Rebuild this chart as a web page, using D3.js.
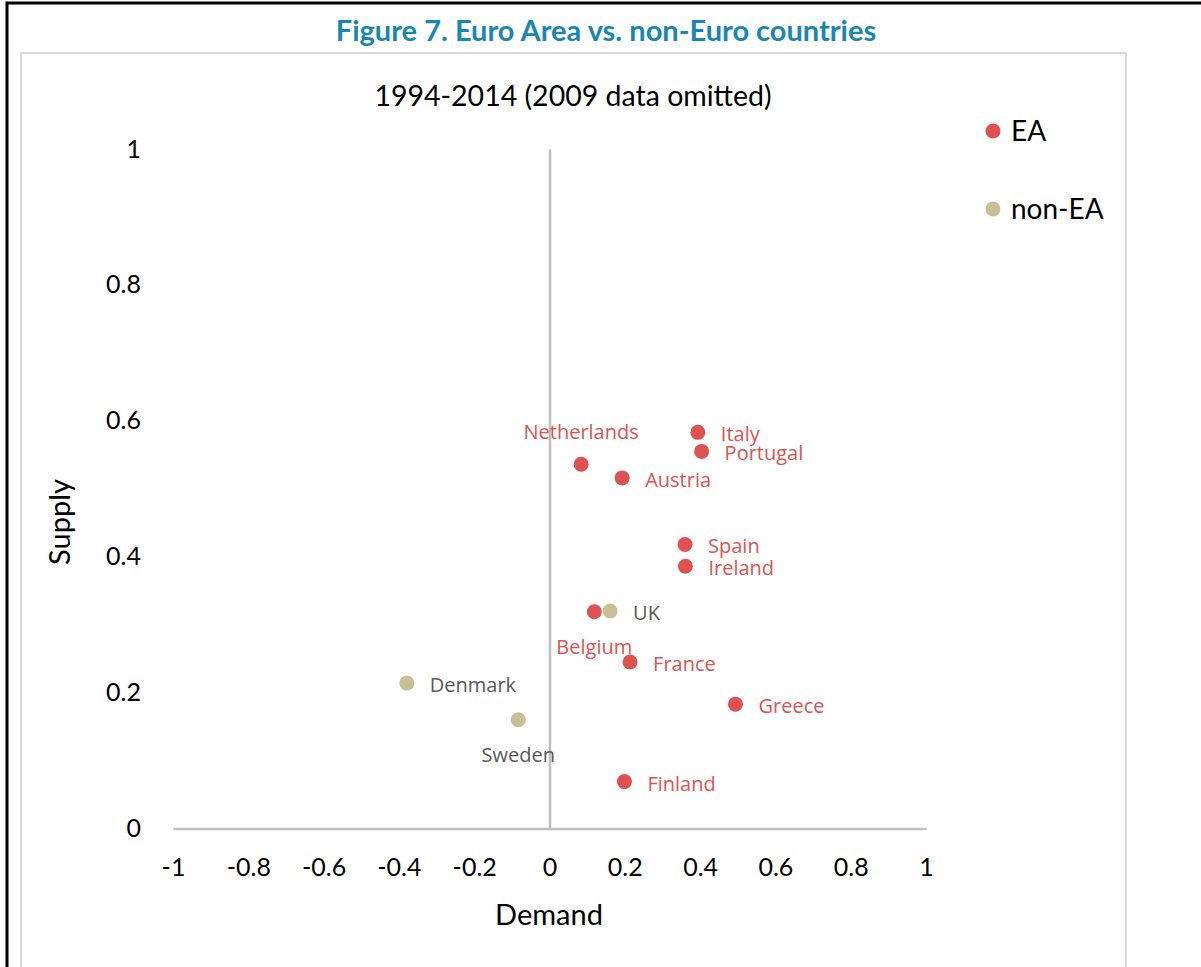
<!doctype html>
<html>
  <head>
    <meta charset="utf-8">
    <title>Euro Area vs. non-Euro countries</title>
    <style>
      body { margin: 0; background: #fff; }
      svg text { font-family: Lato, "Open Sans", sans-serif; }
      .lbl { font-family: "Open Sans", "Noto Sans", sans-serif; }
    </style>
  </head>
  <body>
    <div id="chart"></div>

    <script src="https://d3js.org/d3.v7.min.js"></script>
    <script>
      // data
      var eaNames   = ['Italy', 'Portugal', 'Netherlands', 'Austria', 'Spain', 'Ireland', 'Belgium', 'France', 'Greece', 'Finland'];
      var eaDemand  = [0.394, 0.404, 0.084, 0.193, 0.360, 0.361, 0.119, 0.214, 0.494, 0.199];
      var eaSupply  = [0.583, 0.555, 0.536, 0.516, 0.418, 0.386, 0.319, 0.245, 0.183, 0.069];

      var nonNames  = ['UK', 'Denmark', 'Sweden'];
      var nonDemand = [0.161, -0.379, -0.083];
      var nonSupply = [0.320, 0.214, 0.160];

      var xTicks = [-1, -0.8, -0.6, -0.4, -0.2, 0, 0.2, 0.4, 0.6, 0.8, 1];
      var yTicks = [0, 0.2, 0.4, 0.6, 0.8, 1];

      var seriesNames = ['EA', 'non-EA'];

      var width = 1201;
      var height = 967;

      var color = d3.scaleOrdinal()
        .domain(seriesNames)
        .range(['#e05252', '#c9bf96']);
      var labelColor = { 'EA': '#e05252', 'non-EA': '#595959' };

      // plain hyphen minus like the original
      var fmt = function(d) { return String(+d.toFixed(1)); };

      var svg = d3.select('#chart')
        .append('svg')
        .attr('width', width)
        .attr('height', height);

      // frames
      svg.append('rect')
        .attr('x', 7).attr('y', 3)
        .attr('width', 1300).attr('height', 1100)
        .attr('fill', 'none')
        .attr('stroke', '#000')
        .attr('stroke-width', 3);
      svg.append('rect')
        .attr('x', 21).attr('y', 53)
        .attr('width', 1105).attr('height', 1000)
        .attr('fill', '#fff')
        .attr('stroke', '#d9d9d9')
        .attr('stroke-width', 2);

      svg.append('text')
        .attr('x', 606).attr('y', 41)
        .attr('text-anchor', 'middle')
        .attr('font-size', 29)
        .attr('font-weight', 'bold')
        .attr('fill', '#1a86b4')
        .text('Figure 7. Euro Area vs. non-Euro countries');

      svg.append('text')
        .attr('x', 573).attr('y', 106)
        .attr('text-anchor', 'middle')
        .attr('font-size', 28.5)
        .attr('fill', '#000')
        .text('1994-2014 (2009 data omitted)');

      var x = d3.scaleLinear().domain([-1, 1]).range([173, 926]);
      var y = d3.scaleLinear().domain([0, 1]).range([828.5, 149]);

      // x axis along supply = 0
      var xAxis = svg.append('g')
        .attr('transform', 'translate(0,' + y(0) + ')')
        .call(d3.axisBottom(x).tickValues(xTicks).tickSize(0).tickPadding(30).tickFormat(fmt));
      xAxis.select('.domain').attr('stroke', '#bfbfbf').attr('stroke-width', 2.5);
      xAxis.selectAll('text').attr('font-size', 25).attr('fill', '#000')
        .attr('font-family', 'Lato, sans-serif');

      // vertical line at demand = 0
      var yLine = svg.append('g')
        .attr('transform', 'translate(' + x(0) + ',0)')
        .call(d3.axisLeft(y).tickValues([]).tickSizeOuter(0));
      yLine.select('.domain').attr('stroke', '#bfbfbf').attr('stroke-width', 2.5);

      // y tick labels sit at the left
      var yAxis = svg.append('g')
        .attr('transform', 'translate(' + x(-1) + ',0)')
        .call(d3.axisLeft(y).tickValues(yTicks).tickSize(0).tickPadding(32).tickFormat(fmt));
      yAxis.select('.domain').remove();
      yAxis.selectAll('text').attr('font-size', 25).attr('fill', '#000')
        .attr('font-family', 'Lato, sans-serif');

      svg.append('text')
        .attr('x', 549).attr('y', 925)
        .attr('text-anchor', 'middle')
        .attr('font-size', 29)
        .text('Demand');

      svg.append('text')
        .attr('transform', 'translate(70,522) rotate(-90)')
        .attr('text-anchor', 'middle')
        .attr('font-size', 29)
        .text('Supply');

      var points = [];
      eaNames.forEach(function(n, i) {
        points.push({ name: n, series: 'EA', x: eaDemand[i], y: eaSupply[i] });
      });
      nonNames.forEach(function(n, i) {
        points.push({ name: n, series: 'non-EA', x: nonDemand[i], y: nonSupply[i] });
      });

      svg.selectAll('circle.pt')
        .data(points)
        .enter()
        .append('circle')
        .attr('class', 'pt')
        .attr('cx', function(d) { return x(d.x); })
        .attr('cy', function(d) { return y(d.y); })
        .attr('r', 7.5)
        .attr('fill', function(d) { return color(d.series); });

      // label placement like the original
      var above = ['Netherlands'];
      var below = ['Belgium', 'Sweden'];
      var centred = function(d) { return above.indexOf(d.name) >= 0 || below.indexOf(d.name) >= 0; };

      svg.selectAll('text.lbl')
        .data(points)
        .enter()
        .append('text')
        .attr('class', 'lbl')
        .attr('font-size', 20)
        .attr('fill', function(d) { return labelColor[d.series]; })
        .attr('text-anchor', function(d) { return centred(d) ? 'middle' : 'start'; })
        .attr('x', function(d) { return centred(d) ? x(d.x) : x(d.x) + 23; })
        .attr('y', function(d) {
          if (above.indexOf(d.name) >= 0) return y(d.y) - 25;
          if (below.indexOf(d.name) >= 0) return y(d.y) + 42;
          return y(d.y) + 9;
        })
        .text(function(d) { return d.name; });

      // legend
      var legend = svg.selectAll('g.leg')
        .data(seriesNames)
        .enter()
        .append('g')
        .attr('class', 'leg')
        .attr('transform', function(d, i) { return 'translate(993,' + (131 + i * 78) + ')'; });
      legend.append('circle')
        .attr('r', 7.5)
        .attr('fill', function(d) { return color(d); });
      legend.append('text')
        .attr('x', 18)
        .attr('y', 10)
        .attr('font-size', 28)
        .text(function(d) { return d; });
    </script>
  </body>
</html>
